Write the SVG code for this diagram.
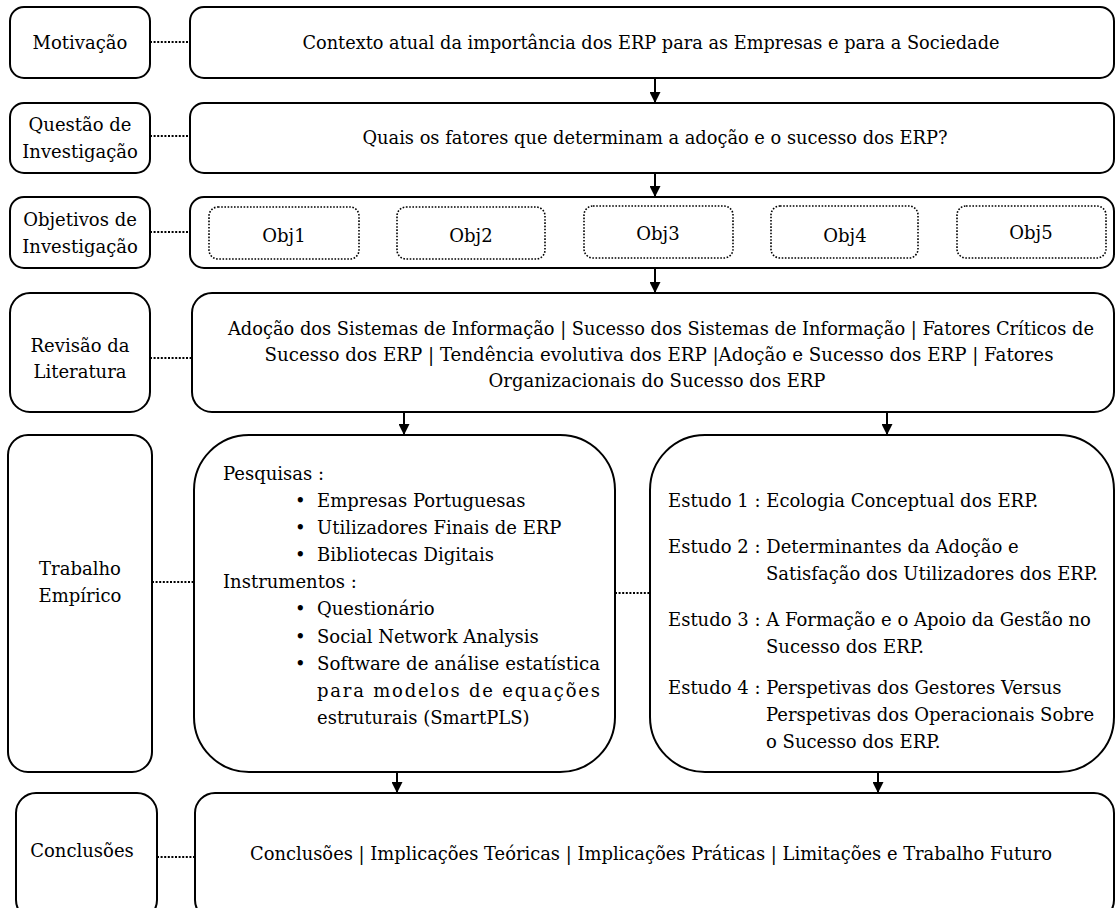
<svg xmlns="http://www.w3.org/2000/svg" width="1118" height="908" viewBox="0 0 1118 908">
  <style>
    .box { fill: #fff; stroke: #000; stroke-width: 2; }
    .obj { fill: none; stroke: #000; stroke-width: 1.6; stroke-dasharray: 1.6 1.6; }
    .dot { fill: none; stroke: #000; stroke-width: 2.2; stroke-dasharray: 2 1.6; }
    .arrow { fill: none; stroke: #000; stroke-width: 2; marker-end: url(#head); }
    .c { text-anchor: middle; }
  </style>
  <defs>
    <marker id="head" viewBox="0 0 10 10" refX="10" refY="5" markerWidth="5.5" markerHeight="5.5" orient="auto" markerUnits="strokeWidth">
      <path d="M0,0 L10,5 L0,10 Z" fill="#000"/>
    </marker>
  </defs>
  <rect width="1118" height="908" fill="#fff"/>

  <!-- connectors -->
  <g id="connectors">
    <line class="dot" x1="150" y1="42" x2="190" y2="42"/>
    <line class="dot" x1="150" y1="136" x2="190" y2="136"/>
    <line class="dot" x1="150" y1="232" x2="190" y2="232"/>
    <line class="dot" x1="150" y1="358" x2="192" y2="358"/>
    <line class="dot" x1="152" y1="582" x2="194" y2="582"/>
    <line class="dot" x1="615" y1="593" x2="650" y2="593"/>
    <line class="dot" x1="157" y1="857" x2="195" y2="857"/>
    <line class="arrow" x1="655" y1="78" x2="655" y2="103"/>
    <line class="arrow" x1="655" y1="173" x2="655" y2="197"/>
    <line class="arrow" x1="655" y1="268" x2="655" y2="293"/>
    <line class="arrow" x1="404" y1="412" x2="404" y2="435"/>
    <line class="arrow" x1="887" y1="412" x2="887" y2="435"/>
    <line class="arrow" x1="397" y1="772" x2="397" y2="793"/>
    <line class="arrow" x1="878" y1="772" x2="878" y2="793"/>
  </g>

  <g font-family="'DejaVu Serif', serif" font-size="18" fill="#000">
  <!-- stage labels -->
  <g id="motivacao">
    <rect class="box" x="10" y="7" width="140" height="71" rx="14"/>
    <text class="c" x="80" y="49">Motivação</text>
  </g>
  <g id="questao">
    <rect class="box" x="10" y="103" width="140" height="70" rx="14"/>
    <text class="c" x="80" y="131">Questão de</text>
    <text class="c" x="80" y="158">Investigação</text>
  </g>
  <g id="objetivos">
    <rect class="box" x="10" y="197" width="140" height="71" rx="14"/>
    <text class="c" x="80" y="226">Objetivos de</text>
    <text class="c" x="80" y="253">Investigação</text>
  </g>
  <g id="revisao">
    <rect class="box" x="10" y="293" width="140" height="119" rx="20"/>
    <text class="c" x="80" y="352">Revisão da</text>
    <text class="c" x="80" y="378">Literatura</text>
  </g>
  <g id="trabalho">
    <rect class="box" x="8" y="435" width="144" height="337" rx="20"/>
    <text class="c" x="80" y="575">Trabalho</text>
    <text class="c" x="80" y="602">Empírico</text>
  </g>
  <g id="conclusoes">
    <rect class="box" x="16" y="793" width="141" height="127" rx="20"/>
    <text class="c" x="82" y="857">Conclusões</text>
  </g>

  <!-- stage contents -->
  <g id="contexto">
    <rect class="box" x="190" y="7" width="924" height="71" rx="14"/>
    <text class="c" x="651" y="49" textLength="697" lengthAdjust="spacingAndGlyphs">Contexto atual da importância dos ERP para as Empresas e para a Sociedade</text>
  </g>
  <g id="pergunta">
    <rect class="box" x="190" y="103" width="924" height="70" rx="14"/>
    <text class="c" x="655" y="144" textLength="585" lengthAdjust="spacingAndGlyphs">Quais os fatores que determinam a adoção e o sucesso dos ERP?</text>
  </g>
  <g id="lista-objetivos">
    <rect class="box" x="190" y="197" width="924" height="71" rx="14"/>
    <rect class="obj" x="209" y="207" width="150" height="52" rx="9"/>
    <text class="c" x="284" y="242">Obj1</text>
    <rect class="obj" x="397" y="207" width="148" height="52" rx="9"/>
    <text class="c" x="471" y="242">Obj2</text>
    <rect class="obj" x="584" y="206" width="149" height="52" rx="9"/>
    <text class="c" x="658" y="240">Obj3</text>
    <rect class="obj" x="771" y="206" width="147" height="52" rx="9"/>
    <text class="c" x="845" y="242">Obj4</text>
    <rect class="obj" x="957" y="206" width="149" height="52" rx="9"/>
    <text class="c" x="1031" y="239">Obj5</text>
  </g>
  <g id="literatura">
    <rect class="box" x="192" y="293" width="922" height="119" rx="20"/>
    <text class="c" x="661" y="335" textLength="866" lengthAdjust="spacingAndGlyphs">Adoção dos Sistemas de Informação | Sucesso dos Sistemas de Informação | Fatores Críticos de</text>
    <text class="c" x="659" y="361" textLength="789" lengthAdjust="spacingAndGlyphs">Sucesso dos ERP  | Tendência evolutiva dos ERP |Adoção e Sucesso dos ERP | Fatores</text>
    <text class="c" x="657" y="387" textLength="337" lengthAdjust="spacingAndGlyphs">Organizacionais do Sucesso dos ERP</text>
  </g>
  <g id="metodos">
    <rect class="box" x="194" y="435" width="421" height="337" rx="55"/>
    <text x="223" y="480">Pesquisas :</text>
    <text x="295" y="507">•</text><text x="317" y="507">Empresas Portuguesas</text>
    <text x="295" y="534">•</text><text x="317" y="534">Utilizadores Finais de ERP</text>
    <text x="295" y="561">•</text><text x="317" y="561">Bibliotecas Digitais</text>
    <text x="223" y="588">Instrumentos :</text>
    <text x="295" y="615">•</text><text x="317" y="615">Questionário</text>
    <text x="295" y="643">•</text><text x="317" y="643">Social Network Analysis</text>
    <text x="295" y="670">•</text><text x="317" y="670" textLength="283" lengthAdjust="spacingAndGlyphs">Software de análise estatística</text>
    <text x="317" y="697" textLength="283" lengthAdjust="spacing">para modelos de equações</text>
    <text x="317" y="724">estruturais (SmartPLS)</text>
  </g>
  <g id="estudos">
    <rect class="box" x="650" y="435" width="464" height="337" rx="55"/>
    <text x="668" y="507">Estudo 1 : Ecologia Conceptual dos ERP.</text>
    <text x="668" y="553">Estudo 2 : Determinantes da Adoção e</text>
    <text x="766" y="580">Satisfação dos Utilizadores dos ERP.</text>
    <text x="668" y="626">Estudo 3 : A Formação e o Apoio da Gestão no</text>
    <text x="766" y="653">Sucesso dos ERP.</text>
    <text x="668" y="694">Estudo 4 : Perspetivas dos Gestores Versus</text>
    <text x="766" y="721">Perspetivas dos Operacionais Sobre</text>
    <text x="766" y="748">o Sucesso dos ERP.</text>
  </g>
  <g id="sintese">
    <rect class="box" x="195" y="793" width="919" height="127" rx="20"/>
    <text class="c" x="651" y="860" textLength="802" lengthAdjust="spacingAndGlyphs">Conclusões | Implicações Teóricas | Implicações Práticas | Limitações e Trabalho Futuro</text>
  </g>
  </g>
</svg>
